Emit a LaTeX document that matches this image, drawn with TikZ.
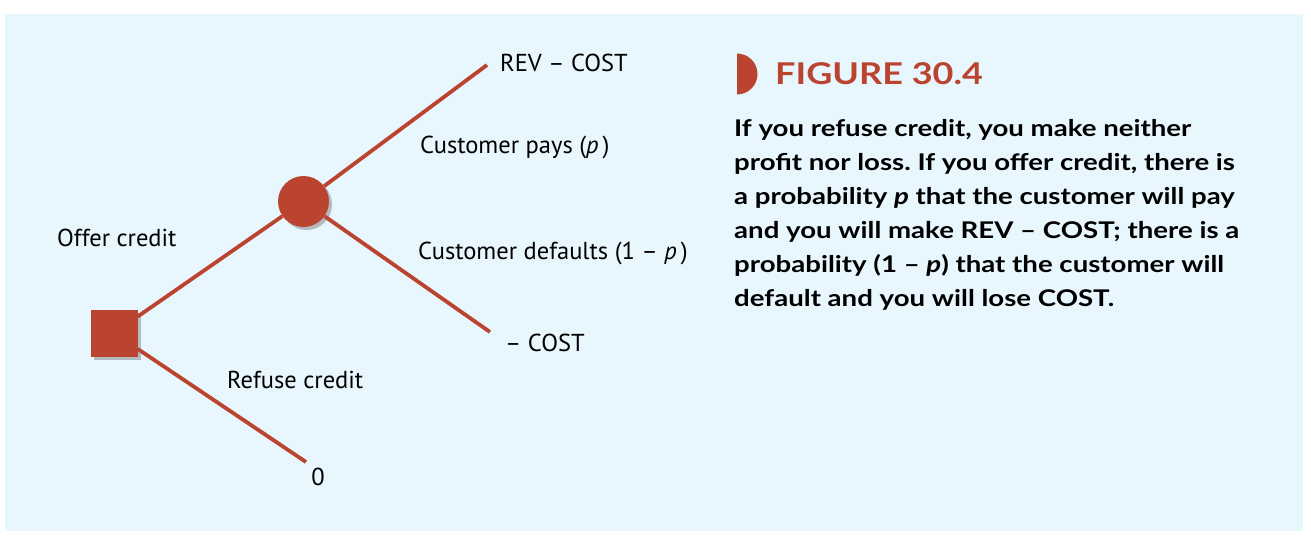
\documentclass[tikz,border=0pt]{standalone}
\usepackage{fontspec}
\setmainfont{PT Sans}
\newfontfamily\capfont[FakeStretch=1.2]{Lato}
\usetikzlibrary{shadows}
\definecolor{treered}{HTML}{BB4430}
\definecolor{panelblue}{HTML}{E8F6FD}
\newcommand{\treeFont}[0]{\fontsize{24.5}{28}\selectfont}
\frenchspacing

\begin{document}
\begin{tikzpicture}[x=1pt,y=-1pt]
  \tikzset{branch/.style={draw=treered,line width=3.8pt},
    nodeshadow/.style={drop shadow={shadow xshift=3pt,shadow yshift=-3pt,fill=black!80,opacity=.3}},
    decision/.style={fill=treered,minimum size=47pt,inner sep=0pt,nodeshadow},
    chance/.style={circle,fill=treered,minimum size=51pt,inner sep=0pt,nodeshadow},
    leaf/.style={inner sep=0pt,font=\treeFont},
    edgetext/.style={inner sep=0pt,anchor=west,font=\treeFont}}
  \useasboundingbox[fill=white] (0,0) rectangle (1311,543);
  \fill[panelblue] (5,14) rectangle (1303,531);

  % the tree
  \coordinate (end-pay) at (487,65);
  \coordinate (end-default) at (490,332);
  \coordinate (end-refuse) at (306,462);
  \node[decision] (dec-1) at (114,333) {};
  \node[chance] (chance-1) at (303.5,201.5) {};
  \draw[branch] (dec-1) -- (chance-1);
  \draw[branch] (dec-1) -- (end-refuse);
  \draw[branch] (chance-1) -- (end-pay);
  \draw[branch] (chance-1) -- (end-default);

  \node[edgetext] (offer) at (57,238) {Offer credit};
  \node[edgetext] (refuse) at (227,380) {Refuse credit};
  \node[edgetext] (pays) at (420,147) {Customer pays (\textit{p}\,)};
  \node[edgetext] (defaults) at (418,253) {Customer defaults (1 – \textit{p}\,)};
  \node[leaf,anchor=west] (rev-cost) at (500,63) {REV – COST};
  \node[leaf,anchor=west] (neg-cost) at (505,343) {– COST};
  \node[leaf] (zero) at (318,477) {0};

  % the caption
  \fill[treered] (737,53.5) arc[start angle=-90,end angle=90,radius=20.5] -- cycle;
  \node[inner sep=0pt,anchor=west,text=treered,font=\capfont\bfseries\fontsize{30}{30}\selectfont] (title) at (775,74) {FIGURE 30.4};
  \node[inner sep=0pt,anchor=north west,align=left,font=\capfont\bfseries\fontsize{23}{34}\selectfont] (caption) at (734,119)
    {If you refuse credit, you make neither\\
     profit nor loss. If you offer credit, there is\\
     a probability \textit{p} that the customer will pay\\
     and you will make REV – COST; there is a\\
     probability (1 – \textit{p}) that the customer will\\
     default and you will lose COST.};
\end{tikzpicture}
\end{document}
